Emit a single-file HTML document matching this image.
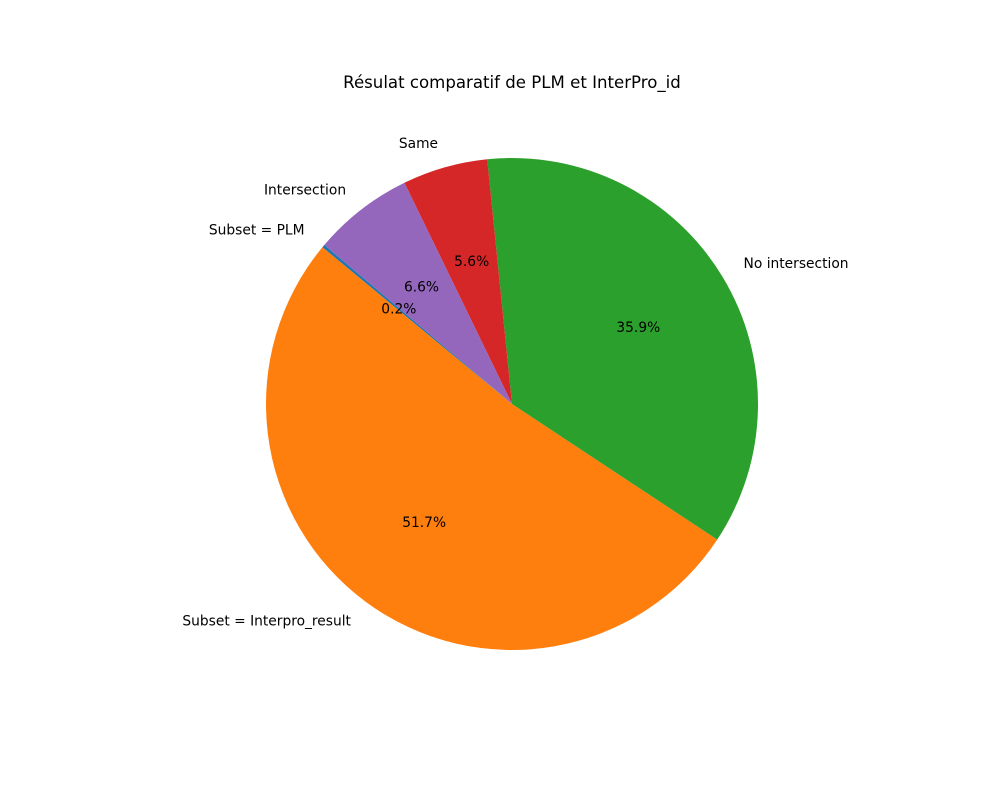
<!DOCTYPE html>
<html><head><meta charset="utf-8"><style>
body{margin:0;background:#fff}
svg text{font-family:"DejaVu Sans","Liberation Sans",sans-serif}
</style></head><body>
<svg id="chart" width="1000" height="800" xmlns="http://www.w3.org/2000/svg">
<rect width="1000" height="800" fill="#fff"/>
<text x="512" y="88" text-anchor="middle" font-size="16.6">Résulat comparatif de PLM et InterPro_id</text>
<g id="slices"></g><g id="labels"></g>
</svg>
<script>
const categories = ["Subset = PLM","Subset = Interpro_result","No intersection","Same","Intersection"];
const values = [0.2, 51.7, 35.9, 5.6, 6.6];
const colors = ["#1f77b4","#ff7f0e","#2ca02c","#d62728","#9467bd"];
const startAngle = 139.7;
const cx=512, cy=404, r=246;
const NS="http://www.w3.org/2000/svg";
const total=values.reduce((a,b)=>a+b,0);
const gS=document.getElementById('slices'), gL=document.getElementById('labels');
function pt(deg,rad){const a=deg*Math.PI/180;return [cx+rad*Math.cos(a), cy-rad*Math.sin(a)];}
let a0=startAngle;
values.forEach((v,i)=>{
  const span=v/total*360, a1=a0+span;
  const p0=pt(a0,r), p1=pt(a1,r);
  const path=document.createElementNS(NS,'path');
  path.setAttribute('d',`M${cx},${cy} L${p0[0]},${p0[1]} A${r},${r} 0 ${span>180?1:0} 0 ${p1[0]},${p1[1]} Z`);
  path.setAttribute('fill',colors[i]);
  
  
  gS.appendChild(path);
  const mid=(a0+a1)/2;
  const lp=pt(mid,r*1.1);
  const t=document.createElementNS(NS,'text');
  t.setAttribute('x',lp[0]);t.setAttribute('y',lp[1]+4.2);
  t.setAttribute('font-size','13.8');
  t.setAttribute('text-anchor',Math.cos(mid*Math.PI/180)<0?'end':'start');
  t.textContent=categories[i];
  
  
  gL.appendChild(t);
  const pp=pt(mid,r*0.6);
  const t2=document.createElementNS(NS,'text');
  t2.setAttribute('x',pp[0]);t2.setAttribute('y',pp[1]+4.2);
  t2.setAttribute('font-size','13.8');t2.setAttribute('text-anchor','middle');
  t2.textContent=v.toFixed(1)+'%';
  
  
  gL.appendChild(t2);
  a0=a1;
});
</script>
</body></html>
